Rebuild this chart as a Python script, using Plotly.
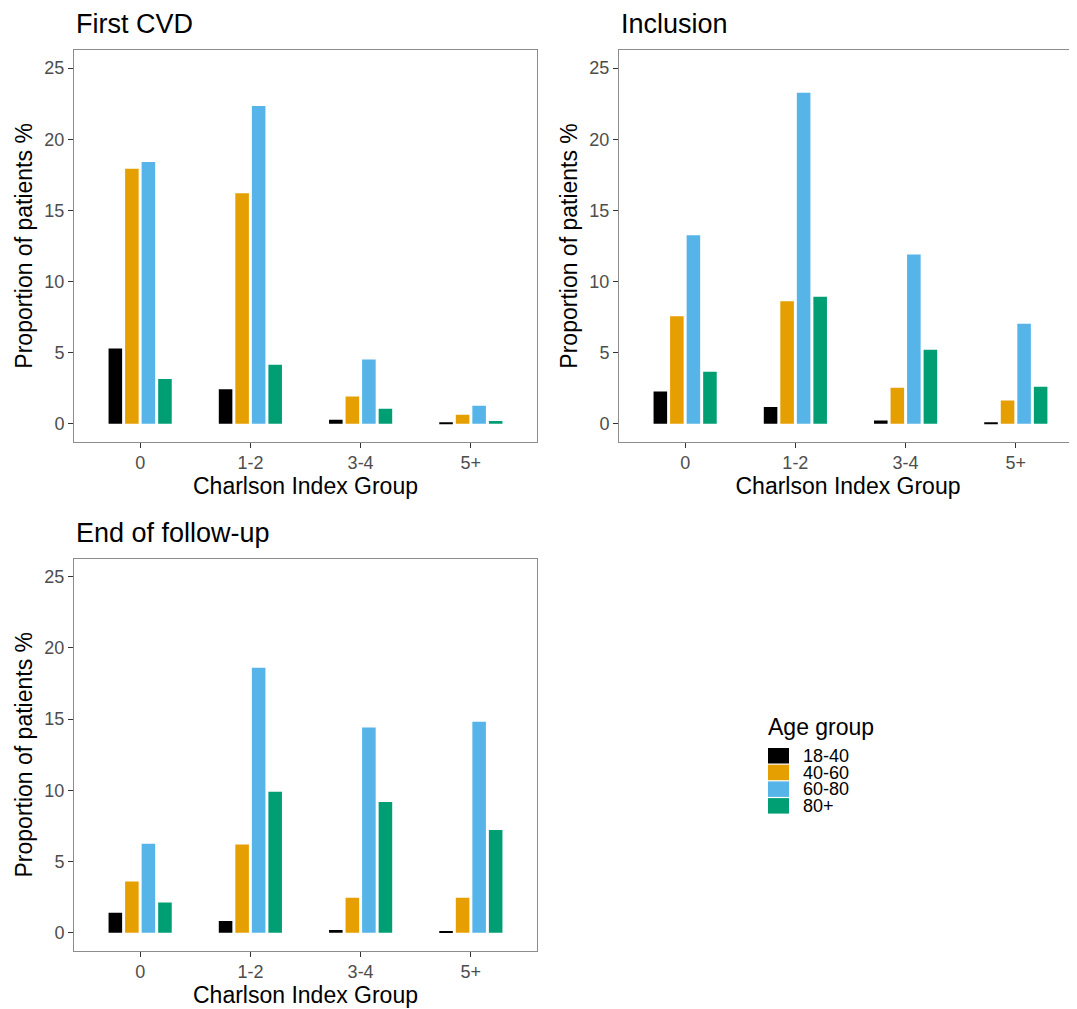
import plotly.graph_objects as go

# ---- data ----
categories = ["0", "1-2", "3-4", "5+"]
age_groups = ["18-40", "40-60", "60-80", "80+"]
age_colors = ["#000000", "#E69F00", "#56B4E9", "#009E73"]
panel_titles = ["First CVD", "Inclusion", "End of follow-up"]

first_cvd_18_40 = [5.29, 2.43, 0.28, 0.05]
first_cvd_40_60 = [17.93, 16.20, 1.92, 0.63]
first_cvd_60_80 = [18.40, 22.33, 4.52, 1.26]
first_cvd_80p = [3.14, 4.14, 1.05, 0.19]

inclusion_18_40 = [2.27, 1.17, 0.23, 0.05]
inclusion_40_60 = [7.56, 8.61, 2.53, 1.64]
inclusion_60_80 = [13.25, 23.27, 11.89, 7.02]
inclusion_80p = [3.65, 8.92, 5.20, 2.60]

end_18_40 = [1.40, 0.82, 0.19, 0.09]
end_40_60 = [3.60, 6.20, 2.46, 2.46]
end_60_80 = [6.25, 18.61, 14.42, 14.82]
end_80p = [2.13, 9.90, 9.18, 7.21]

y_ticks = [0, 5, 10, 15, 20, 25]

panels = [
    [first_cvd_18_40, first_cvd_40_60, first_cvd_60_80, first_cvd_80p],
    [inclusion_18_40, inclusion_40_60, inclusion_60_80, inclusion_80p],
    [end_18_40, end_40_60, end_60_80, end_80p],
]

# ---- layout geometry (pixels in the browser window) ----
OX, OY = 8, 8          # default page body margin
W, H = 1077 - OX, 1009 - OY
FONT = "Liberation Sans, Arial, sans-serif"

def px_x(p):
    return (p - OX) / W

def px_y(p):
    return 1 - (p - OY) / H

panel_geom = [
    # x0, x1, ytop, ybottom, xrange
    (74, 537, 50.3, 441.5, [-0.6, 3.6]),
    (619, 1077, 50.3, 441.5, [-0.6, 3.555]),
    (74, 537, 559.0, 950.5, [-0.6, 3.6]),
]

fig = go.Figure()

for i, series in enumerate(panels):
    xa = "x" if i == 0 else f"x{i+1}"
    ya = "y" if i == 0 else f"y{i+1}"
    for g, vals in enumerate(series):
        fig.add_trace(go.Bar(
            x=categories, y=vals, name=age_groups[g],
            marker=dict(color=age_colors[g], line=dict(width=0)),
            xaxis=xa, yaxis=ya, showlegend=False,
        ))

layout = dict(
    width=W, height=H,
    margin=dict(l=0, r=0, t=0, b=0),
    paper_bgcolor="white", plot_bgcolor="white",
    barmode="group", bargap=0.4, bargroupgap=0.18,
    font=dict(family=FONT, color="#000000"),
    showlegend=False,
)

annotations = []
shapes = []
for i, (x0, x1, yt, yb, xr) in enumerate(panel_geom):
    xk = "xaxis" if i == 0 else f"xaxis{i+1}"
    yk = "yaxis" if i == 0 else f"yaxis{i+1}"
    ya = "y" if i == 0 else f"y{i+1}"
    xa = "x" if i == 0 else f"x{i+1}"
    layout[xk] = dict(
        domain=[px_x(x0), min(1.0, px_x(x1))], anchor=ya,
        type="category", range=xr,
        showline=True, linecolor="#8c8c8c", linewidth=1, mirror=True,
        ticks="outside", ticklen=5, tickcolor="#333333", tickwidth=1,
        tickfont=dict(size=18, color="#4D4D4D", family=FONT),
        showgrid=False, zeroline=False,
        title=dict(text="Charlson Index Group", font=dict(size=23, color="#000000", family=FONT), standoff=3),
    )
    layout[yk] = dict(
        domain=[px_y(yb), px_y(yt)], anchor=xa,
        range=[-1.25, 26.25], tickvals=y_ticks,
        showline=True, linecolor="#8c8c8c", linewidth=1, mirror=(i != 1),
        ticks="outside", ticklen=5, tickcolor="#333333", tickwidth=1,
        tickfont=dict(size=18, color="#4D4D4D", family=FONT),
        showgrid=False, zeroline=False,
        title=dict(text="Proportion of patients %", font=dict(size=23, color="#000000", family=FONT), standoff=5),
    )
    annotations.append(dict(
        text=panel_titles[i], xref="paper", yref="paper",
        x=px_x(x0), y=px_y(yt - 9), xanchor="left", yanchor="bottom",
        showarrow=False, font=dict(size=27, color="#000000", family=FONT),
    ))

# legend (manual, ggplot style)
annotations.append(dict(
    text="Age group", xref="paper", yref="paper",
    x=px_x(766), y=px_y(727), xanchor="left", yanchor="middle",
    showarrow=False, font=dict(size=23, color="#000000", family=FONT),
))
key_top = 748.0
pitch = 16.7
for g, name in enumerate(age_groups):
    t = key_top + g * pitch
    shapes.append(dict(
        type="rect", xref="paper", yref="paper",
        x0=px_x(768), x1=px_x(789), y0=px_y(t + 15.5), y1=px_y(t),
        fillcolor=age_colors[g], line=dict(width=0),
    ))
    annotations.append(dict(
        text=name, xref="paper", yref="paper",
        x=px_x(801), y=px_y(t + 7.8), xanchor="left", yanchor="middle",
        showarrow=False, font=dict(size=18, color="#000000", family=FONT),
    ))

layout["annotations"] = annotations
layout["shapes"] = shapes
fig.update_layout(**layout)

fig.write_html("out.html")
